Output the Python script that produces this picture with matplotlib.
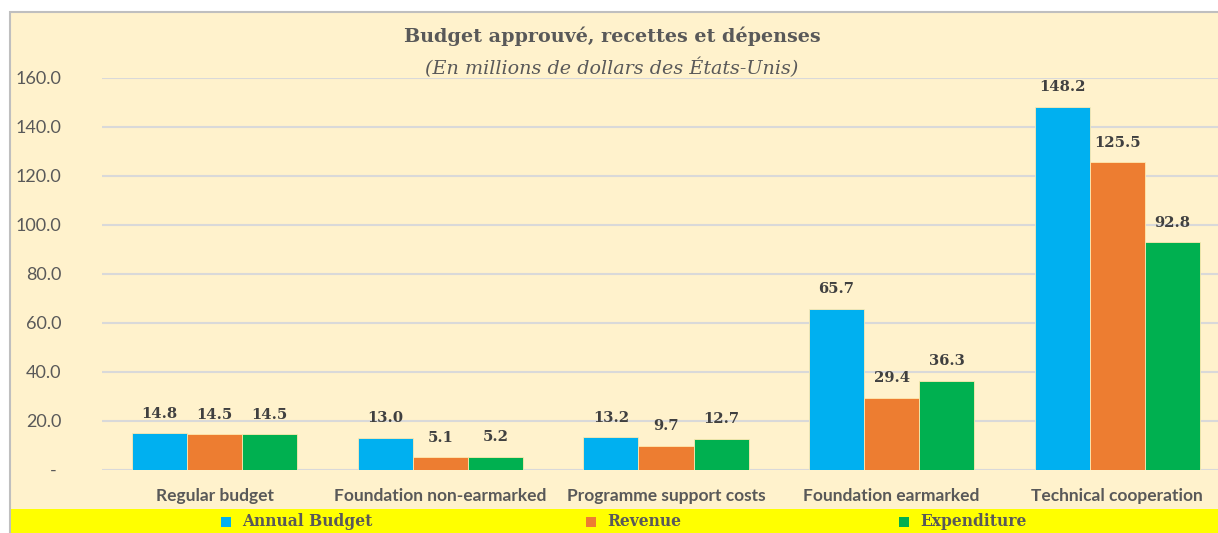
import matplotlib
matplotlib.use("Agg")
from matplotlib import pyplot as plt
from matplotlib import patches
import numpy as np

categories = ["Regular budget", "Foundation non-earmarked", "Programme support costs",
              "Foundation earmarked", "Technical cooperation"]
annual_budget = [14.8, 13.0, 13.2, 65.7, 148.2]
revenue = [14.5, 5.1, 9.7, 29.4, 125.5]
expenditure = [14.5, 5.2, 12.7, 36.3, 92.8]
series_names = ["Annual Budget", "Revenue", "Expenditure"]
colors = ["#00B0F0", "#ED7D31", "#00B050"]
yticks = [0, 20, 40, 60, 80, 100, 120, 140, 160]

W, H = 1218, 533
fig = plt.figure(figsize=(W / 100, H / 100), dpi=100)
fig.patch.set_facecolor("white")

# chart box (cut off on the right and bottom like the source)
fig.patches.append(patches.Rectangle((10 / W, 0), 1.1, (H - 12) / H, transform=fig.transFigure,
                                     facecolor="#FFF2CC", edgecolor="#BFBFBF", linewidth=1.5, zorder=-2))
# yellow legend band
fig.patches.append(patches.Rectangle((11 / W, 0), 1.1, 24 / H, transform=fig.transFigure,
                                     facecolor="#FFFF00", edgecolor="none", zorder=-1))

ax = fig.add_axes([102 / W, (H - 469.7) / H, (1230 - 102) / W, (469.7 - 77.7) / H])
ax.set_facecolor("none")
ax.set_zorder(2)

x = np.arange(len(categories))
bw = 0.244
for i, (vals, c) in enumerate(zip([annual_budget, revenue, expenditure], colors)):
    bars = ax.bar(x + (i - 1) * bw, vals, bw, color=c, edgecolor="#FFE9B0", linewidth=0.6, zorder=3)
    for b, v in zip(bars, vals):
        ax.annotate(f"{v:.1f}", (b.get_x() + b.get_width() / 2, v), xytext=(0, 9),
                    textcoords="offset points", ha="center", va="bottom",
                    fontsize=10.6, fontweight="bold", family="DejaVu Serif", color="#404040")

ax.set_xlim(-0.5, len(categories) - 0.5)
ax.set_ylim(0, 160)
ax.set_yticks(yticks)
ax.set_yticklabels(["- " if t == 0 else f"{t:.1f}" for t in yticks],
                   fontsize=13, family="Lato", color="#595959")
ax.set_xticks(x)
ax.set_xticklabels(categories, fontsize=12.5, family="Lato", fontweight="bold", color="#595959")
ax.tick_params(axis="y", length=0, pad=29)
ax.tick_params(axis="x", length=0, pad=13)
ax.grid(axis="y", color="#D9D9D9", linewidth=1.5, zorder=0)
ax.set_axisbelow(True)
for s in ax.spines.values():
    s.set_visible(False)

fig.text(612 / W, 1 - 36 / H, "Budget approuvé, recettes et dépenses", ha="center", va="center",
         fontsize=13.8, fontweight="bold", family="DejaVu Serif", color="#595959")
fig.text(612 / W, 1 - 68 / H, "(En millions de dollars des États-Unis)", ha="center", va="center",
         fontsize=13.8, style="italic", family="DejaVu Serif", color="#595959")

# legend in the yellow band
legend_pos = [226, 591, 904]
for px, name, c in zip(legend_pos, series_names, colors):
    fig.patches.append(patches.Rectangle(((px - 5) / W, (H - 527) / H), 10 / W, 10 / H,
                                         transform=fig.transFigure, facecolor=c, edgecolor="none", zorder=2))
    fig.text((px + 16) / W, (H - 522) / H, name, ha="left", va="center", fontsize=11.2,
             fontweight="bold", family="DejaVu Serif", color="#595959", zorder=3)

fig.savefig("out.png", dpi=100)
